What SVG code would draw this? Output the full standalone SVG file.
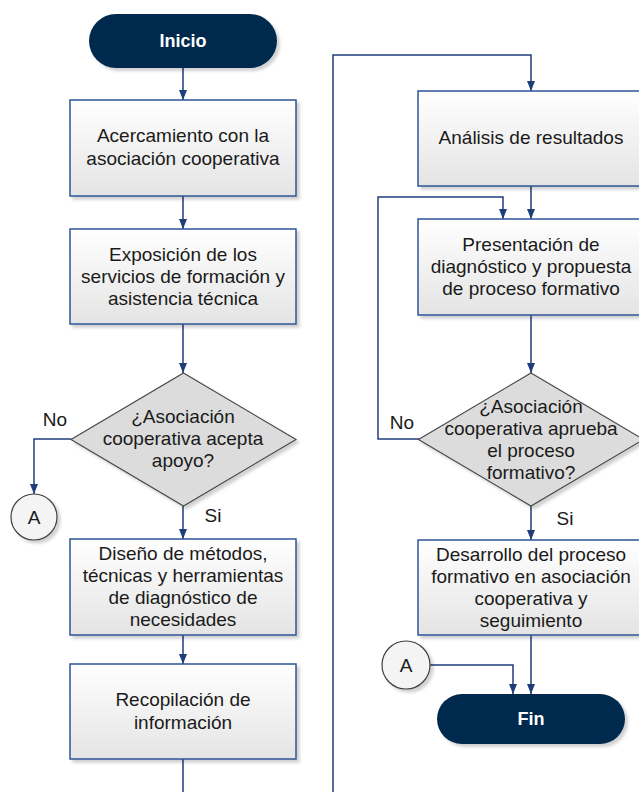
<svg xmlns="http://www.w3.org/2000/svg" width="639" height="792" viewBox="0 0 639 792">
<style>
.box{fill:url(#g);stroke:#2F5496;stroke-width:1.5;filter:url(#sh)}
.dia{fill:#DCDCDC;stroke:#4A4A4A;stroke-width:1.2;filter:url(#sh)}
.pill{fill:#062A4E;filter:url(#sh)}
.circ{fill:#F4F4F4;stroke:#404040;stroke-width:1.2;filter:url(#sh)}
.t{font-family:"Liberation Sans",Arial,sans-serif;font-size:19px;fill:#1a1a1a;text-anchor:middle}
.w{font-family:"Liberation Sans",Arial,sans-serif;font-size:18px;fill:#fff;text-anchor:middle;font-weight:bold}
.lbl{font-family:"Liberation Sans",Arial,sans-serif;font-size:19px;fill:#1a1a1a;text-anchor:middle}
.c{fill:none;stroke:#1F3D7A;stroke-width:1.5}
</style>
<defs>
<linearGradient id="g" x1="0" y1="0" x2="0" y2="1">
<stop offset="0" stop-color="#FFFFFF"/>
<stop offset="1" stop-color="#E4E4E4"/>
</linearGradient>
<filter id="sh" x="-10%" y="-10%" width="130%" height="130%">
<feDropShadow dx="3" dy="3" stdDeviation="1.5" flood-color="#000" flood-opacity="0.18"/>
</filter>
<marker id="ar" markerUnits="userSpaceOnUse" markerWidth="10" markerHeight="10" viewBox="0 0 10 10" refX="10" refY="5" orient="auto">
<path d="M0,1 L10,5 L0,9 Z" fill="#1F3D7A"/>
</marker>
</defs>
<rect width="639" height="792" fill="#fff"/>

<g id="connectors">
<path class="c" d="M183 68 V100" marker-end="url(#ar)"/>
<path class="c" d="M183 196 V229" marker-end="url(#ar)"/>
<path class="c" d="M183 324 V373" marker-end="url(#ar)"/>
<path class="c" d="M183 506 V539" marker-end="url(#ar)"/>
<path class="c" d="M183 635 V664" marker-end="url(#ar)"/>
<path class="c" d="M183 759 V792"/>
<path class="c" d="M71 439 H34 V494" marker-end="url(#ar)"/>
<path class="c" d="M333 792 V55 H531 V91" marker-end="url(#ar)"/>
<path class="c" d="M531 186 V219" marker-end="url(#ar)"/>
<path class="c" d="M531 315 V373" marker-end="url(#ar)"/>
<path class="c" d="M419 439 H378 V197 H503 V219" marker-end="url(#ar)"/>
<path class="c" d="M531 506 V540" marker-end="url(#ar)"/>
<path class="c" d="M531 635 V694" marker-end="url(#ar)"/>
<path class="c" d="M430 665 H513 V694" marker-end="url(#ar)"/>
<text class="lbl" x="55" y="426">No</text>
<text class="lbl" x="213" y="522">Si</text>
<text class="lbl" x="402" y="429">No</text>
<text class="lbl" x="565" y="525">Si</text>
</g>

<g id="inicio">
<rect class="pill" x="89" y="14" width="188" height="54" rx="27"/>
<text class="w" x="183" y="47">Inicio</text>
</g>

<g id="acercamiento">
<rect class="box" x="70" y="100" width="226" height="96"/>
<text class="t" x="183" y="142">Acercamiento con la</text>
<text class="t" x="183" y="165">asociación cooperativa</text>
</g>

<g id="exposicion">
<rect class="box" x="70" y="229" width="226" height="95"/>
<text class="t" x="183" y="261">Exposición de los</text>
<text class="t" x="183" y="283">servicios de formación y</text>
<text class="t" x="183" y="305">asistencia técnica</text>
</g>

<g id="decision1">
<polygon class="dia" points="183.5,373 296,439.5 183.5,506 71,439.5"/>
<text class="t" x="183" y="423">¿Asociación</text>
<text class="t" x="183" y="445">cooperativa acepta</text>
<text class="t" x="183" y="467">apoyo?</text>
</g>

<g id="conectorA1">
<circle class="circ" cx="34" cy="517" r="23"/>
<text class="t" x="34" y="524">A</text>
</g>

<g id="diseno">
<rect class="box" x="70" y="539" width="226" height="96"/>
<text class="t" x="183" y="560">Diseño de métodos,</text>
<text class="t" x="183" y="582">técnicas y herramientas</text>
<text class="t" x="183" y="604">de diagnóstico de</text>
<text class="t" x="183" y="626">necesidades</text>
</g>

<g id="recopilacion">
<rect class="box" x="70" y="664" width="226" height="95"/>
<text class="t" x="183" y="706">Recopilación de</text>
<text class="t" x="183" y="729">información</text>
</g>

<g id="analisis">
<rect class="box" x="418" y="91" width="226" height="95"/>
<text class="t" x="531" y="144">Análisis de resultados</text>
</g>

<g id="presentacion">
<rect class="box" x="418" y="219" width="226" height="96"/>
<text class="t" x="531" y="251">Presentación de</text>
<text class="t" x="531" y="273">diagnóstico y propuesta</text>
<text class="t" x="531" y="295">de proceso formativo</text>
</g>

<g id="decision2">
<polygon class="dia" points="531,373 643.5,439.5 531,506 418.5,439.5"/>
<text class="t" x="531" y="413">¿Asociación</text>
<text class="t" x="531" y="435">cooperativa aprueba</text>
<text class="t" x="531" y="457">el proceso</text>
<text class="t" x="531" y="479">formativo?</text>
</g>

<g id="desarrollo">
<rect class="box" x="418" y="540" width="226" height="95"/>
<text class="t" x="531" y="561">Desarrollo del proceso</text>
<text class="t" x="531" y="583">formativo en asociación</text>
<text class="t" x="531" y="605">cooperativa y</text>
<text class="t" x="531" y="627">seguimiento</text>
</g>

<g id="conectorA2">
<circle class="circ" cx="406" cy="665" r="24"/>
<text class="t" x="406" y="672">A</text>
</g>

<g id="fin">
<rect class="pill" x="437" y="694" width="188" height="50" rx="25"/>
<text class="w" x="531" y="725">Fin</text>
</g>
</svg>
